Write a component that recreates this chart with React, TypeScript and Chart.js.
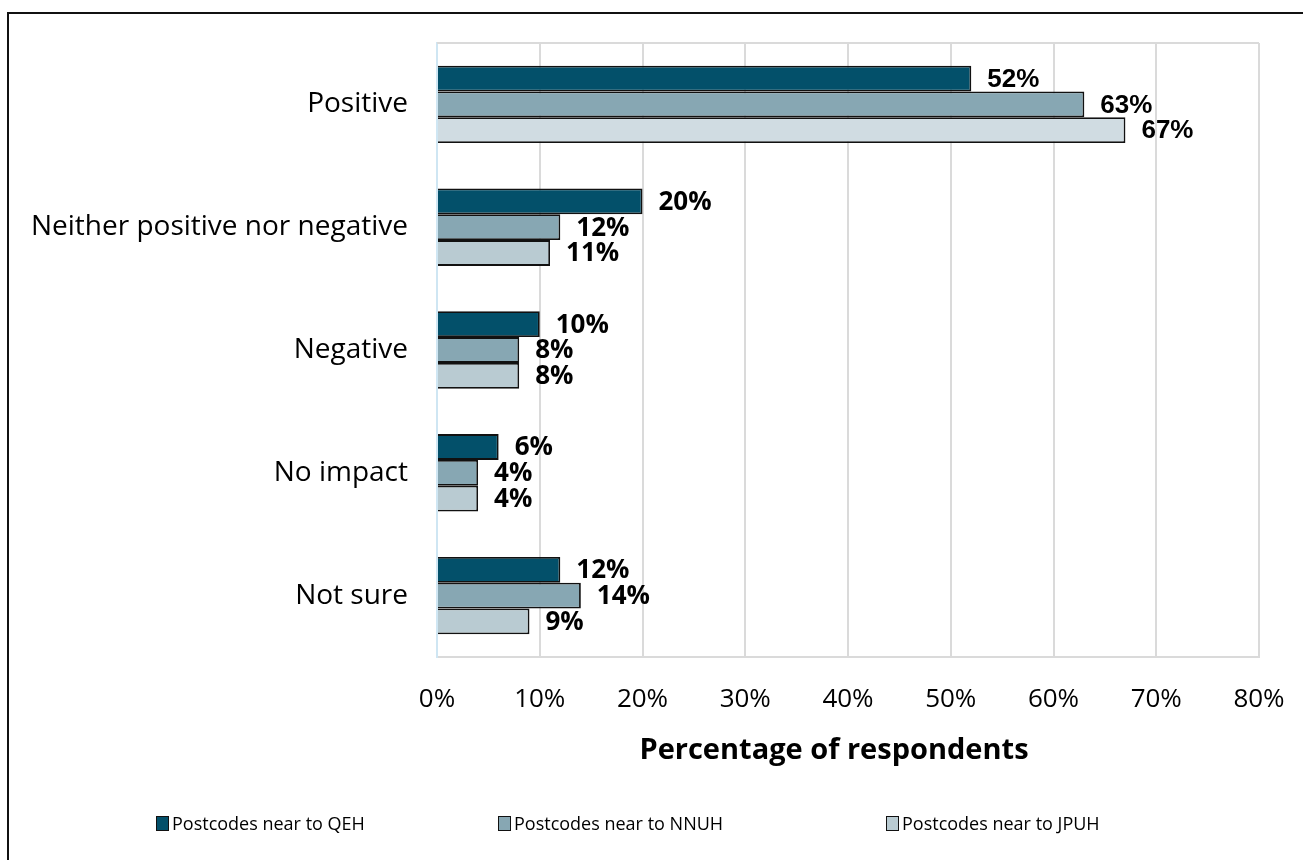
import React, { useEffect, useRef } from "react";
import { Chart, registerables } from "chart.js";

Chart.register(...registerables);

// Survey answers (percentage of respondents)
const categories = [
  "Positive",
  "Neither positive nor negative",
  "Negative",
  "No impact",
  "Not sure",
];
const seriesNames = [
  "Postcodes near to QEH",
  "Postcodes near to NNUH",
  "Postcodes near to JPUH",
];
const qehValues = [52, 20, 10, 6, 12];
const nnuhValues = [63, 12, 8, 4, 14];
const jpuhValues = [67, 11, 8, 4, 9];
const xTicks = [0, 10, 20, 30, 40, 50, 60, 70, 80];
const axisTitle = "Percentage of respondents";

const FONT = "'Open Sans', 'DejaVu Sans', sans-serif";
const ALT_FONT = "'Liberation Sans', Arial, sans-serif";
const QEH_COLOR = "#03506a";
const NNUH_COLOR = "#87a7b3";
const JPUH_COLOR = "#b9cbd2";
const JPUH_FIRST = "#d0dce2";
const legendColors = [QEH_COLOR, NNUH_COLOR, JPUH_COLOR];
const legendLefts = [156, 498, 886];

// value labels drawn just past the end of every bar
const valueLabels = {
  id: "valueLabels",
  afterDatasetsDraw(chart: any) {
    const ctx = chart.ctx;
    ctx.save();
    ctx.fillStyle = "#000";
    ctx.textAlign = "left";
    ctx.textBaseline = "middle";
    chart.data.datasets.forEach((ds: any, di: number) => {
      const meta = chart.getDatasetMeta(di);
      meta.data.forEach((el: any, i: number) => {
        const fam = i === 0 ? ALT_FONT : FONT;
        ctx.font = `bold 26px ${fam}`;
        ctx.fillText(`${ds.data[i]}%`, el.x + 16, el.y + 1);
      });
    });
    ctx.restore();
  },
};

// light outline along the top edge of the plot area
const plotTop = {
  id: "plotTop",
  beforeDatasetsDraw(chart: any) {
    const { ctx, chartArea } = chart;
    ctx.save();
    ctx.strokeStyle = "#dadada";
    ctx.lineWidth = 2;
    ctx.beginPath();
    ctx.moveTo(chartArea.left, chartArea.top);
    ctx.lineTo(chartArea.right, chartArea.top);
    ctx.stroke();
    ctx.restore();
  },
};

export default function App() {
  const canvasRef = useRef<HTMLCanvasElement>(null);

  useEffect(() => {
    const canvas = canvasRef.current;
    if (!canvas) return;
    const chart = new Chart(canvas, {
      type: "bar",
      data: {
        labels: categories,
        datasets: [
          {
            label: seriesNames[0],
            data: qehValues,
            backgroundColor: QEH_COLOR,
            borderColor: "#111",
            borderWidth: 1.8,
          },
          {
            label: seriesNames[1],
            data: nnuhValues,
            backgroundColor: NNUH_COLOR,
            borderColor: "#111",
            borderWidth: 1.8,
          },
          {
            label: seriesNames[2],
            data: jpuhValues,
            backgroundColor: jpuhValues.map((_, i) => (i === 0 ? JPUH_FIRST : JPUH_COLOR)),
            borderColor: "#111",
            borderWidth: 1.8,
          },
        ],
      },
      options: {
        indexAxis: "y",
        responsive: false,
        animation: false,
        datasets: {
          bar: { categoryPercentage: 0.63, barPercentage: 1 },
        },
        layout: { padding: { left: 10, right: 44, top: 43, bottom: 83 } },
        plugins: {
          legend: { display: false },
          tooltip: { enabled: false },
        },
        scales: {
          x: {
            min: 0,
            max: 80,
            afterBuildTicks: (axis: any) => {
              axis.ticks = xTicks.map((v) => ({ value: v }));
            },
            afterFit: (axis: any) => {
              axis.height = 120;
            },
            grid: {
              color: "#dadada",
              lineWidth: 2,
              drawTicks: true,
              tickLength: 27,
              tickColor: "rgba(0,0,0,0)",
            },
            border: { color: "#dadada", width: 2 },
            ticks: {
              padding: 0,
              color: "#000",
              font: { family: FONT, size: 26 },
              callback: (v: any) => `${v}%`,
            },
          },
          y: {
            afterFit: (axis: any) => {
              axis.width = 427;
            },
            grid: { display: false },
            border: { color: "#cfe6f3", width: 2 },
            ticks: {
              padding: 21,
              color: "#000",
              font: { family: FONT, size: 28 },
            },
          },
        },
      },
      plugins: [plotTop, valueLabels],
    } as any);
    return () => chart.destroy();
  }, []);

  return (
    <div
      style={{
        position: "fixed",
        left: 0,
        top: 0,
        width: 1303,
        height: 860,
        overflow: "hidden",
        background: "#fff",
      }}
    >
      <div
        style={{
          position: "absolute",
          left: 7,
          top: 12,
          right: 0,
          bottom: 0,
          borderLeft: "2px solid #111",
          borderTop: "2px solid #111",
        }}
      />
      <canvas
        ref={canvasRef}
        width={1303}
        height={860}
        style={{ position: "absolute", left: 0, top: 0 }}
      />
      <div
        style={{
          position: "absolute",
          left: 584,
          width: 500,
          top: 729,
          textAlign: "center",
          fontFamily: FONT,
          fontSize: 29,
          fontWeight: "bold",
          color: "#000",
          lineHeight: "38px",
          whiteSpace: "nowrap",
        }}
      >
        {axisTitle}
      </div>
      {seriesNames.map((name, i) => (
        <div
          key={name}
          style={{
            position: "absolute",
            left: legendLefts[i],
            top: 808,
            height: 30,
            display: "flex",
            alignItems: "center",
            fontFamily: FONT,
            fontSize: 18,
            color: "#000",
            whiteSpace: "nowrap",
          }}
        >
          <span
            style={{
              display: "inline-block",
              width: 11,
              height: 13,
              background: legendColors[i],
              border: "1.5px solid #111",
              marginRight: 3,
            }}
          />
          {name}
        </div>
      ))}
    </div>
  );
}
